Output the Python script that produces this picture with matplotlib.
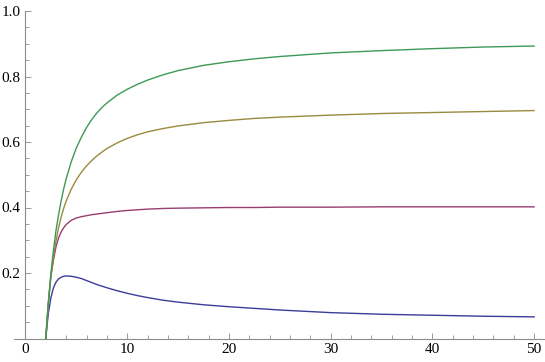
import numpy as np
import matplotlib.pyplot as plt
from matplotlib.ticker import MultipleLocator, FixedLocator

# valores
x = [2, 2.1, 2.25, 2.5, 2.75, 3, 3.25, 3.5, 3.75, 4, 4.5, 5, 5.5, 6, 6.5, 7, 7.5, 8, 9, 10,
     11, 12, 13.5, 15, 17.5, 20, 22.5, 25, 30, 35, 40, 45, 50]
azul = [0, 0.035, 0.078, 0.125, 0.155, 0.172, 0.182, 0.187, 0.19, 0.191, 0.19, 0.187,
        0.183, 0.177, 0.171, 0.165, 0.16, 0.155, 0.146, 0.138, 0.131, 0.125, 0.117, 0.111,
        0.103, 0.097, 0.092, 0.087, 0.079, 0.074, 0.071, 0.068, 0.066]
magenta = [0, 0.045, 0.11, 0.19, 0.24, 0.28, 0.307, 0.325, 0.338, 0.348, 0.361, 0.368,
           0.372, 0.375, 0.378, 0.38, 0.382, 0.384, 0.388, 0.391, 0.393, 0.395, 0.397, 0.398,
           0.399, 0.4, 0.4, 0.401, 0.401, 0.402, 0.402, 0.402, 0.402]
dorado = [0, 0.047, 0.105, 0.19, 0.25, 0.298, 0.338, 0.37, 0.397, 0.42, 0.456, 0.485,
          0.508, 0.527, 0.543, 0.557, 0.569, 0.58, 0.597, 0.611, 0.622, 0.631, 0.641, 0.649,
          0.659, 0.666, 0.672, 0.676, 0.682, 0.687, 0.69, 0.693, 0.696]
verde = [0, 0.048, 0.111, 0.2, 0.27, 0.33, 0.377, 0.42, 0.456, 0.488, 0.54, 0.582,
         0.615, 0.644, 0.668, 0.688, 0.705, 0.719, 0.743, 0.761, 0.776, 0.789, 0.805, 0.818,
         0.834, 0.845, 0.854, 0.861, 0.872, 0.879, 0.885, 0.89, 0.893]

colores = [(0.24, 0.24, 0.6), (0.6, 0.24, 0.443), (0.6, 0.547, 0.24), (0.24, 0.6, 0.337)]

plt.rcParams['font.family'] = 'serif'
plt.rcParams['font.serif'] = ['Liberation Serif', 'DejaVu Serif']

fig = plt.figure(figsize=(5.45, 3.62), dpi=100)
ax = fig.add_axes([14.3 / 545, 23.5 / 362, 1 - 14.3 / 545, 327.5 / 362])

for serie, c in zip([azul, magenta, dorado, verde], colores):
    ax.plot(x, serie, color=c, lw=1.0, solid_joinstyle='round')

ax.set_xlim(-1.1, 51.07)
ax.set_ylim(0, 1.0)

gris = '#8c8c8c'
for lado in ['top', 'right']:
    ax.spines[lado].set_visible(False)
ax.spines['left'].set_position(('data', 0))
ax.spines['left'].set_color(gris)
ax.spines['bottom'].set_color(gris)
ax.spines['left'].set_linewidth(0.8)
ax.spines['bottom'].set_linewidth(0.8)

ax.xaxis.set_major_locator(FixedLocator([0, 10, 20, 30, 40, 50]))
ax.xaxis.set_minor_locator(MultipleLocator(2))
ax.yaxis.set_major_locator(FixedLocator([0.2, 0.4, 0.6, 0.8, 1.0]))
ax.yaxis.set_minor_locator(MultipleLocator(0.05))
ax.set_yticklabels(['0.2', '0.4', '0.6', '0.8', '1.0'])

ax.tick_params(which='both', direction='in', color=gris, width=0.6, labelsize=11, labelcolor='black')
ax.tick_params(which='major', length=4.3)
ax.tick_params(which='minor', length=2.8)
ax.tick_params(axis='x', pad=3.5)
ax.tick_params(axis='y', pad=3.5)

plt.savefig('out.png', dpi=100)
